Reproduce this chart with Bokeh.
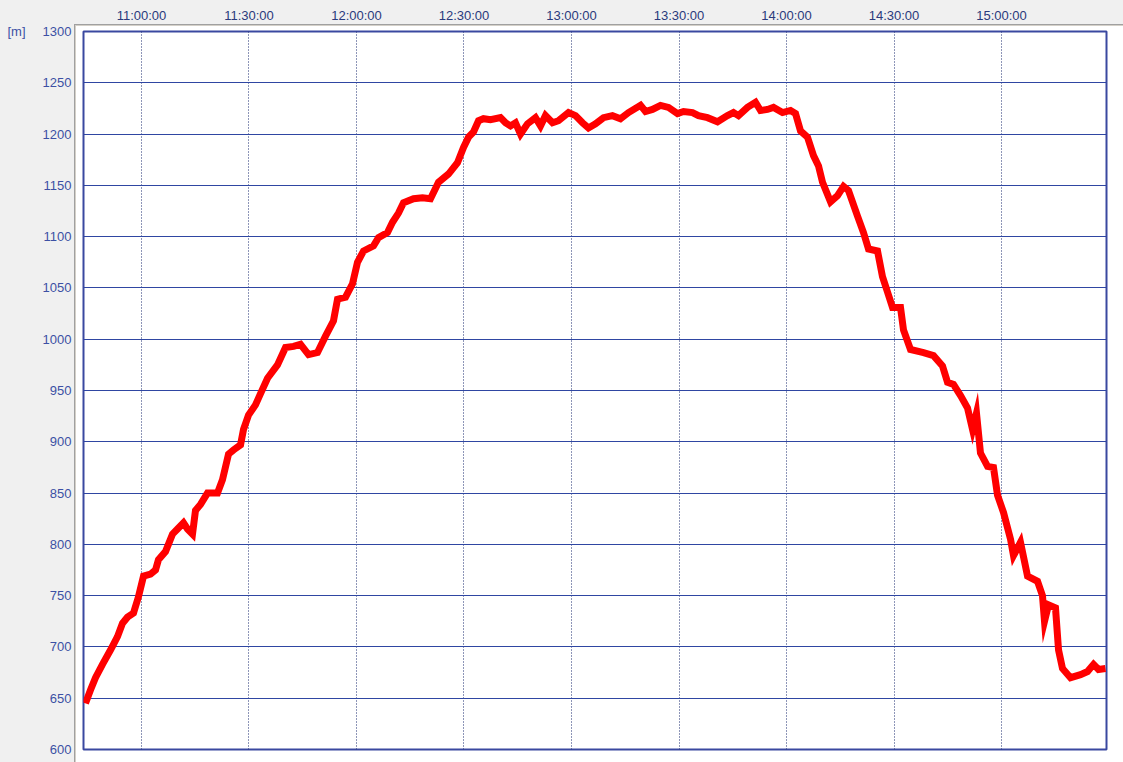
from bokeh.plotting import figure
from bokeh.models import FixedTicker, Range1d, LinearAxis
from bokeh.embed import file_html
from bokeh.resources import INLINE

# ---- data ----
times = [
    "10:44:22", "10:45:46", "10:47:10", "10:49:07", "10:51:21", "10:53:18", "10:54:42", "10:56:05",
    "10:57:46", "10:59:10", "11:00:34", "11:02:31", "11:03:55", "11:04:44", "11:06:42", "11:08:39",
    "11:10:03", "11:11:43", "11:12:50", "11:14:14", "11:15:04", "11:16:28", "11:18:25", "11:21:13",
    "11:22:36", "11:24:17", "11:25:40", "11:27:38", "11:28:28", "11:29:52", "11:31:49", "11:33:13",
    "11:35:10", "11:37:57", "11:40:11", "11:42:25", "11:44:22", "11:46:37", "11:49:07", "11:51:21",
    "11:53:35", "11:54:42", "11:56:56", "11:58:53", "12:00:17", "12:01:57", "12:04:45", "12:06:08",
    "12:08:39", "12:10:03", "12:11:43", "12:13:07", "12:15:55", "12:18:25", "12:20:39", "12:22:53",
    "12:25:40", "12:28:11", "12:29:52", "12:31:16", "12:32:39", "12:34:03", "12:35:26", "12:37:24",
    "12:40:11", "12:41:35", "12:42:59", "12:44:22", "12:45:46", "12:47:43", "12:49:57", "12:51:21",
    "12:52:44", "12:54:42", "12:56:22", "12:59:10", "13:01:07", "13:03:04", "13:04:44", "13:06:42",
    "13:08:56", "13:11:26", "13:13:40", "13:15:55", "13:19:16", "13:20:39", "13:22:36", "13:24:50",
    "13:27:04", "13:29:35", "13:31:16", "13:33:46", "13:35:26", "13:37:57", "13:40:45", "13:43:32",
    "13:45:12", "13:46:36", "13:49:07", "13:51:21", "13:52:45", "13:54:42", "13:56:22", "13:58:53",
    "14:01:07", "14:02:31", "14:03:55", "14:05:52", "14:07:32", "14:08:56", "14:10:03", "14:12:17",
    "14:14:14", "14:15:55", "14:17:18", "14:19:49", "14:21:29", "14:22:53", "14:25:24", "14:26:47",
    "14:28:11", "14:29:35", "14:31:49", "14:32:39", "14:34:36", "14:38:14", "14:41:01", "14:43:32",
    "14:44:56", "14:46:36", "14:48:34", "14:50:31", "14:51:55", "14:53:01", "14:54:08", "14:56:06",
    "14:57:46", "14:58:53", "15:00:34", "15:02:31", "15:03:21", "15:05:18", "15:07:16", "15:10:03",
    "15:11:26", "15:12:00", "15:13:07", "15:15:04", "15:15:55", "15:17:01", "15:19:16", "15:22:03",
    "15:24:00", "15:25:41", "15:27:04", "15:29:01",
]
elevation = [
    645, 658, 670, 683, 697, 710, 723, 729,
    733, 749, 769, 771, 775, 785, 793, 810,
    815, 821, 815, 810, 833, 839, 850, 850,
    863, 888, 892, 897, 912, 926, 936, 947,
    962, 975, 992, 993, 995, 985, 987, 1003,
    1018, 1039, 1041, 1054, 1075, 1086, 1091, 1099,
    1104, 1114, 1123, 1133, 1137, 1138, 1137, 1153,
    1161, 1172, 1187, 1197, 1202, 1213, 1215, 1214,
    1216, 1211, 1208, 1211, 1200, 1210, 1216, 1208,
    1218, 1211, 1213, 1221, 1218, 1211, 1206, 1210,
    1216, 1218, 1215, 1221, 1228, 1222, 1224, 1228,
    1226, 1220, 1222, 1221, 1218, 1216, 1212, 1218,
    1221, 1218, 1226, 1231, 1223, 1224, 1226, 1221,
    1223, 1220, 1203, 1197, 1179, 1169, 1153, 1134,
    1140, 1149, 1145, 1120, 1104, 1088, 1086, 1061,
    1046, 1031, 1031, 1009, 990, 987, 984, 974,
    958, 956, 945, 933, 912, 928, 889, 876,
    875, 848, 831, 805, 789, 802, 769, 764,
    750, 725, 741, 738, 697, 679, 670, 673,
    676, 683, 678, 679,
]
x_tick_labels = ["11:00:00", "11:30:00", "12:00:00", "12:30:00",
                 "13:00:00", "13:30:00", "14:00:00", "14:30:00", "15:00:00"]
y_ticks = [600, 650, 700, 750, 800, 850, 900, 950, 1000,
           1050, 1100, 1150, 1200, 1250, 1300]
x_window = ["10:43:49", "15:29:18"]
unit_label = "[m]"


def sec(s):
    h, m, s2 = (int(v) for v in s.split(":"))
    return h * 3600 + m * 60 + s2


xs = [sec(t) for t in times]
x_ticks = [sec(t) for t in x_tick_labels]
x_start, x_end = sec(x_window[0]), sec(x_window[1])

FONT = "Liberation Sans"
FS = "13px"

p = figure(
    width=1123, height=762,
    output_backend="svg", toolbar_location=None,
    x_range=Range1d(x_start, x_end), y_range=Range1d(y_ticks[0], y_ticks[-1]),
    x_axis_location="above",
    min_border_left=83, min_border_top=31, min_border_right=17, min_border_bottom=13,
    border_fill_color=None, background_fill_color="white",
    outline_line_color="#3a48a0", outline_line_width=2,
)
p.styles = {
    "background": "linear-gradient(#ffffff,#ffffff) 76px 26px / 100% 100% no-repeat, "
                  "linear-gradient(#d4d0c8,#d4d0c8) 75px 25px / 100% 100% no-repeat, "
                  "linear-gradient(#a0a0a0,#a0a0a0) 74px 24px / 100% 100% no-repeat, "
                  "#f0f0f0"
}

# axes
p.xaxis.ticker = FixedTicker(ticks=x_ticks)
p.xaxis.major_label_overrides = {t: lab for t, lab in zip(x_ticks, x_tick_labels)}
p.yaxis.ticker = FixedTicker(ticks=y_ticks)

# unit label as an outer left axis carrying a single tick at the top
unit_axis = LinearAxis(ticker=FixedTicker(ticks=[y_ticks[-1]]),
                       major_label_overrides={y_ticks[-1]: unit_label})
p.add_layout(unit_axis, "left")

for ax in (p.xaxis[0], p.yaxis[0], unit_axis):
    ax.axis_line_color = None
    ax.major_tick_line_color = None
    ax.minor_tick_line_color = None
    ax.major_tick_out = 0
    ax.major_tick_in = 0
    ax.major_label_text_font = FONT
    ax.major_label_text_font_size = FS
p.xaxis.major_label_text_color = "#2a3a7c"
p.xaxis.major_label_standoff = 9
p.yaxis[0].major_label_text_color = "#3c50a4"
p.yaxis[0].major_label_standoff = 12
unit_axis.major_label_text_color = "#3c50a4"
unit_axis.major_label_standoff = 14

# grids
p.ygrid.ticker = FixedTicker(ticks=y_ticks)
p.ygrid.grid_line_color = "#2f46a2"
p.ygrid.grid_line_width = 1
p.xgrid.ticker = FixedTicker(ticks=x_ticks)
p.xgrid.grid_line_color = "#1c2c70"
p.xgrid.grid_line_width = 1
p.xgrid.grid_line_dash = "1 2"

# elevation track
p.line(xs, elevation, line_color="#ff0000", line_width=7, line_join="miter")

open("out.html", "w").write(file_html(p, INLINE))
